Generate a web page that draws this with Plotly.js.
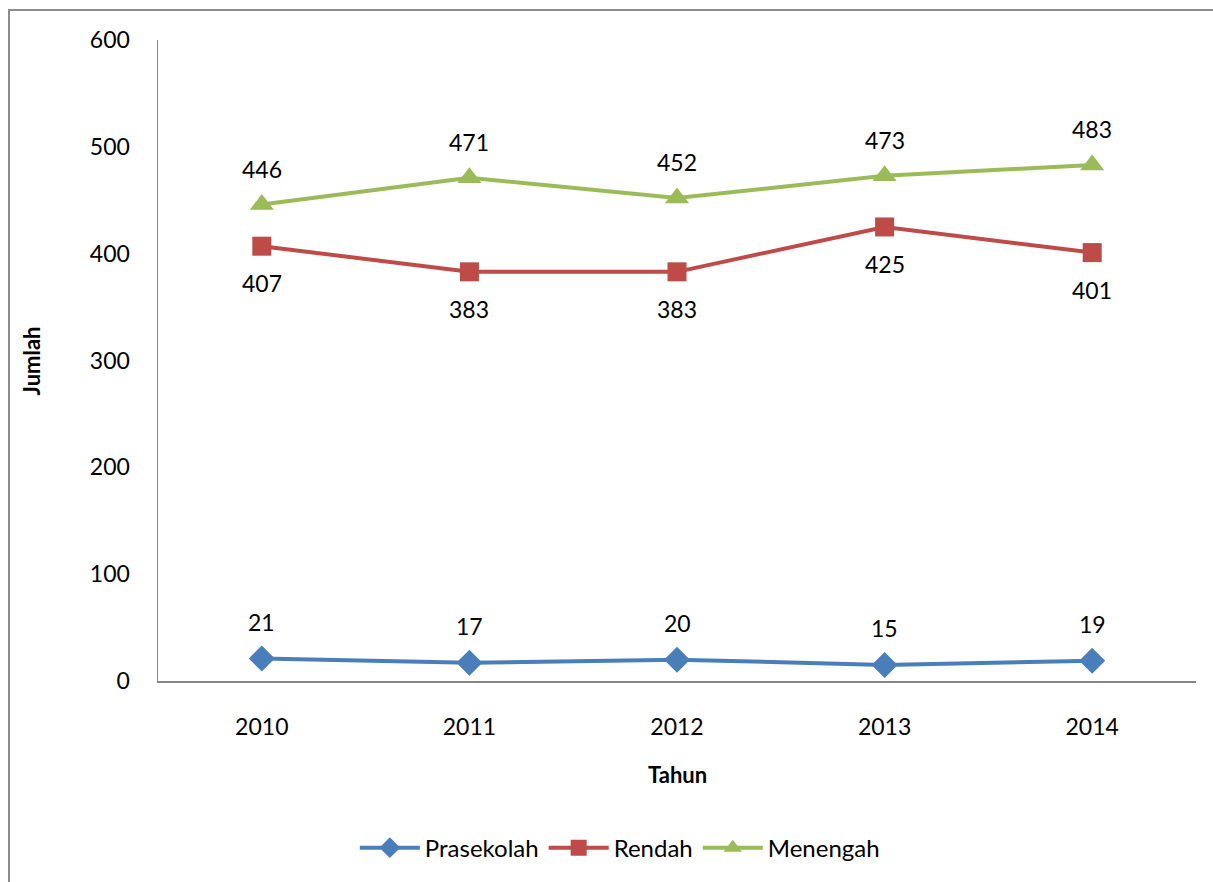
<!DOCTYPE html>
<html>
<head>
<meta charset="utf-8">
<script src="https://cdn.plot.ly/plotly-3.0.1.min.js"></script>
<style>
  html, body { margin: 0; padding: 0; background: #fff; }
  #frame { position: absolute; left: 8px; top: 9px; width: 1300px; height: 1000px;
           border-left: 2px solid #8c8c8c; border-top: 2px solid #8c8c8c; pointer-events: none; }
  #chart { position: absolute; left: 0; top: 0; width: 1213px; height: 882px; }
</style>
</head>
<body>
<div id="chart"></div>
<div id="frame"></div>
<script>
const years = ['2010', '2011', '2012', '2013', '2014'];
const prasekolah = [21, 17, 20, 15, 19];
const rendah = [407, 383, 383, 425, 401];
const menengah = [446, 471, 452, 473, 483];

const FONT = 'Lato, "Open Sans", sans-serif';
const FS = 23;
const series = [
  { name: 'Prasekolah', y: prasekolah, color: '#4A7EBB', symbol: 'diamond', size: 20, shift: 37 },
  { name: 'Rendah', y: rendah, color: '#BE4B48', symbol: 'square', size: 19, shift: -37 },
  { name: 'Menengah', y: menengah, color: '#9BBB59', symbol: 'triangle-up', size: 21, shift: 36 }
];

const traces = series.map(s => ({
  type: 'scatter', mode: 'lines+markers', name: s.name,
  x: years, y: s.y,
  line: { color: s.color, width: 4 },
  marker: { color: s.color, symbol: s.symbol, size: s.size },
  hoverinfo: 'x+y'
}));

const annotations = [];
series.forEach(s => {
  s.y.forEach((v, i) => {
    annotations.push({
      x: i, y: v, xref: 'x', yref: 'y', text: String(v), showarrow: false,
      xanchor: 'center', yanchor: 'middle',
      yshift: s.shift, font: { family: FONT, size: FS, color: '#000' }
    });
  });
});
annotations.push({
  xref: 'paper', yref: 'paper', x: 0.5, y: -0.1466, text: '<b>Tahun</b>', showarrow: false,
  xanchor: 'center', yanchor: 'middle',
  font: { family: FONT, size: FS - 1, color: '#000' }
});
annotations.push({
  xref: 'paper', yref: 'paper', x: -0.1214, y: 0.5, text: '<b>Jumlah</b>', showarrow: false,
  xanchor: 'center', yanchor: 'middle',
  textangle: -90, font: { family: FONT, size: FS - 1, color: '#000' }
});

const layout = {
  width: 1213, height: 882,
  margin: { l: 158, r: 17, t: 40, b: 201 },
  paper_bgcolor: '#fff', plot_bgcolor: '#fff',
  showlegend: true,
  legend: {
    orientation: 'h', xref: 'container', yref: 'container',
    x: 0.511, xanchor: 'center', y: 0.0385, yanchor: 'middle',
    font: { family: FONT, size: 24, color: '#000' }, itemwidth: 60, tracegroupgap: 0
  },
  xaxis: {
    type: 'category', range: [-0.5, 4.5], showgrid: false, zeroline: false,
    showline: true, linecolor: '#868686', linewidth: 1.5,
    ticks: 'outside', ticklen: 25, tickcolor: 'rgba(0,0,0,0)',
    tickfont: { family: FONT, size: FS, color: '#000' }, automargin: false
  },
  yaxis: {
    range: [0, 600], dtick: 100, showgrid: false, zeroline: false,
    showline: true, linecolor: '#868686', linewidth: 1.5,
    ticks: 'outside', ticklen: 22, tickcolor: 'rgba(0,0,0,0)',
    tickfont: { family: FONT, size: FS, color: '#000' }, automargin: false
  },
  annotations: annotations
};

Plotly.newPlot('chart', traces, layout, { displayModeBar: false, staticPlot: true });
</script>
</body>
</html>
